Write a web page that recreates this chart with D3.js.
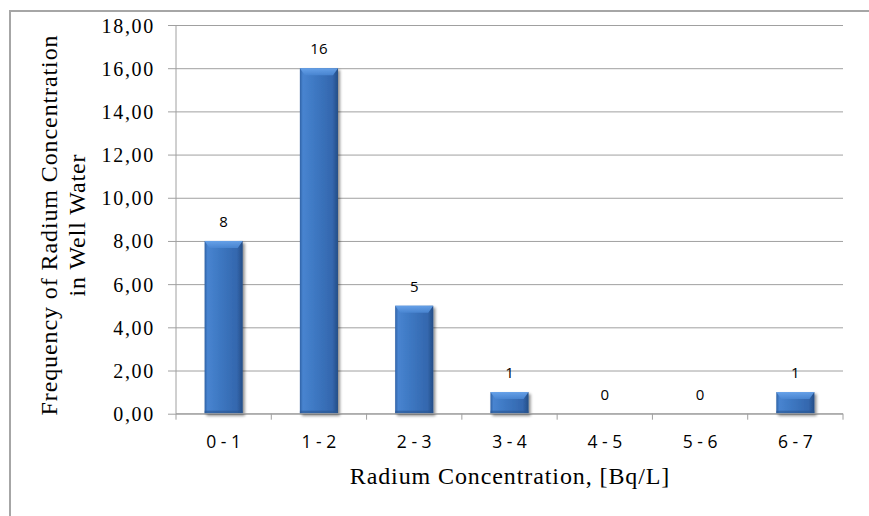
<!DOCTYPE html>
<html><head><meta charset="utf-8">
<script src="https://cdn.jsdelivr.net/npm/d3@7"></script>
<style>body{margin:0;background:#fff;} svg{display:block;}</style>
</head><body>
<svg id="c" width="869" height="516"></svg>
<script>
const categories = ["0 - 1","1 - 2","2 - 3","3 - 4","4 - 5","5 - 6","6 - 7"];
const frequencies = [8,16,5,1,0,0,1];
const yTicks = [0,2,4,6,8,10,12,14,16,18];
const yTitle = ["Frequency of Radium Concentration","in Well Water"];
const xTitle = "Radium Concentration, [Bq/L]";

const svg = d3.select("#c");
const M = {left:176, right:843, top:25, bottom:413.7};
svg.append("rect").attr("x",10).attr("y",11).attr("width",900).attr("height",600)
  .attr("fill","none").attr("stroke","#a6a6a6").attr("stroke-width",2);

const x = d3.scaleBand().domain(categories).range([M.left,M.right]).paddingInner(0.6).paddingOuter(0.3);
const y = d3.scaleLinear().domain([0,18]).range([M.bottom,M.top]);

const defs = svg.append("defs");
const g1 = defs.append("linearGradient").attr("id","barg").attr("x1","0").attr("x2","1").attr("y1","0").attr("y2","0");
[["0%","#2f62a6"],["8%","#4884d0"],["45%","#3c76c0"],["85%","#3467ae"],["100%","#244d86"]].forEach(s=>g1.append("stop").attr("offset",s[0]).attr("stop-color",s[1]));
const g2 = defs.append("linearGradient").attr("id","bevel").attr("x1","0").attr("x2","0").attr("y1","0").attr("y2","1");
[["0%","#6aa5ec"],["100%","#4a86d2"]].forEach(s=>g2.append("stop").attr("offset",s[0]).attr("stop-color",s[1]));
const f = defs.append("filter").attr("id","sh").attr("x","-20%").attr("y","-20%").attr("width","150%").attr("height","150%");
f.append("feGaussianBlur").attr("in","SourceAlpha").attr("stdDeviation",1.5).attr("result","b");
f.append("feOffset").attr("in","b").attr("dx",1.5).attr("dy",1.5).attr("result","o");
f.append("feComponentTransfer").attr("in","o").attr("result","o2").append("feFuncA").attr("type","linear").attr("slope",0.45);
const fm = f.append("feMerge"); fm.append("feMergeNode").attr("in","o2"); fm.append("feMergeNode").attr("in","SourceGraphic");

const yAxis = d3.axisLeft(y).tickValues(yTicks).tickSize(8).tickFormat(d=>d3.format(".2f")(d).replace(".",","));
const ga = svg.append("g").attr("transform",`translate(${M.left},0)`).call(yAxis);
ga.select(".domain").attr("stroke","#a0a0a0").attr("d",`M0,${M.top}V${M.bottom}`);
ga.selectAll(".tick line").attr("stroke","#a0a0a0").attr("x2",M.right-M.left).attr("x1",-8);
ga.selectAll(".tick text").attr("x",-21).attr("dy","0.35em").attr("font-family","Liberation Serif, serif")
  .attr("font-size",20).attr("letter-spacing",1.7).attr("fill","#000");

const bars = svg.append("g");
categories.forEach((c,i)=>{
  const v = frequencies[i]; if(v<=0) return;
  const bx = x(c), bw = x.bandwidth(), by = y(v), bh = y(0)-y(v);
  const gg = bars.append("g").attr("filter","url(#sh)");
  gg.append("rect").attr("x",bx).attr("y",by).attr("width",bw).attr("height",bh).attr("fill","url(#barg)");
  const bv = Math.min(7, bh/2);
  gg.append("path").attr("d",`M${bx},${by}H${bx+bw}L${bx+bw-5},${by+bv}H${bx+5}Z`).attr("fill","url(#bevel)").attr("opacity",0.9);
  gg.append("rect").attr("x",bx).attr("y",y(0)-3).attr("width",bw).attr("height",3).attr("fill","#2a5590").attr("opacity",0.6);
});

const xa = svg.append("g").attr("transform",`translate(0,${M.bottom})`);
xa.append("line").attr("x1",M.left).attr("x2",M.right).attr("stroke","#a0a0a0");
const step = (M.right-M.left)/categories.length;
d3.range(categories.length+1).forEach(i=>{
  xa.append("line").attr("x1",M.left+i*step).attr("x2",M.left+i*step).attr("y1",0).attr("y2",6).attr("stroke","#a0a0a0");
});
categories.forEach(c=>{
  xa.append("text").attr("x",x(c)+x.bandwidth()/2).attr("y",34.5).attr("text-anchor","middle")
    .attr("font-family","Open Sans, DejaVu Sans, sans-serif").attr("font-size",17.5).attr("fill","#000").text(c);
});

categories.forEach((c,i)=>{
  svg.append("text").attr("x",x(c)+x.bandwidth()/2).attr("y",y(frequencies[i])-14).attr("text-anchor","middle")
    .attr("font-family","Open Sans, DejaVu Sans, sans-serif").attr("font-size",15).attr("fill","#000").text(frequencies[i]);
});

svg.append("text").attr("x",510).attr("y",484).attr("text-anchor","middle")
  .attr("font-family","Liberation Serif, serif").attr("font-size",24).attr("letter-spacing",0.9).attr("fill","#000").text(xTitle);
const yt = svg.append("text").attr("transform","translate(0,225) rotate(-90)").attr("text-anchor","middle")
  .attr("font-family","Liberation Serif, serif").attr("font-size",24).attr("letter-spacing",0.9).attr("fill","#000");
yt.append("tspan").attr("x",0).attr("y",57).text(yTitle[0]);
yt.append("tspan").attr("x",0).attr("y",85).text(yTitle[1]);
</script>
</body></html>
